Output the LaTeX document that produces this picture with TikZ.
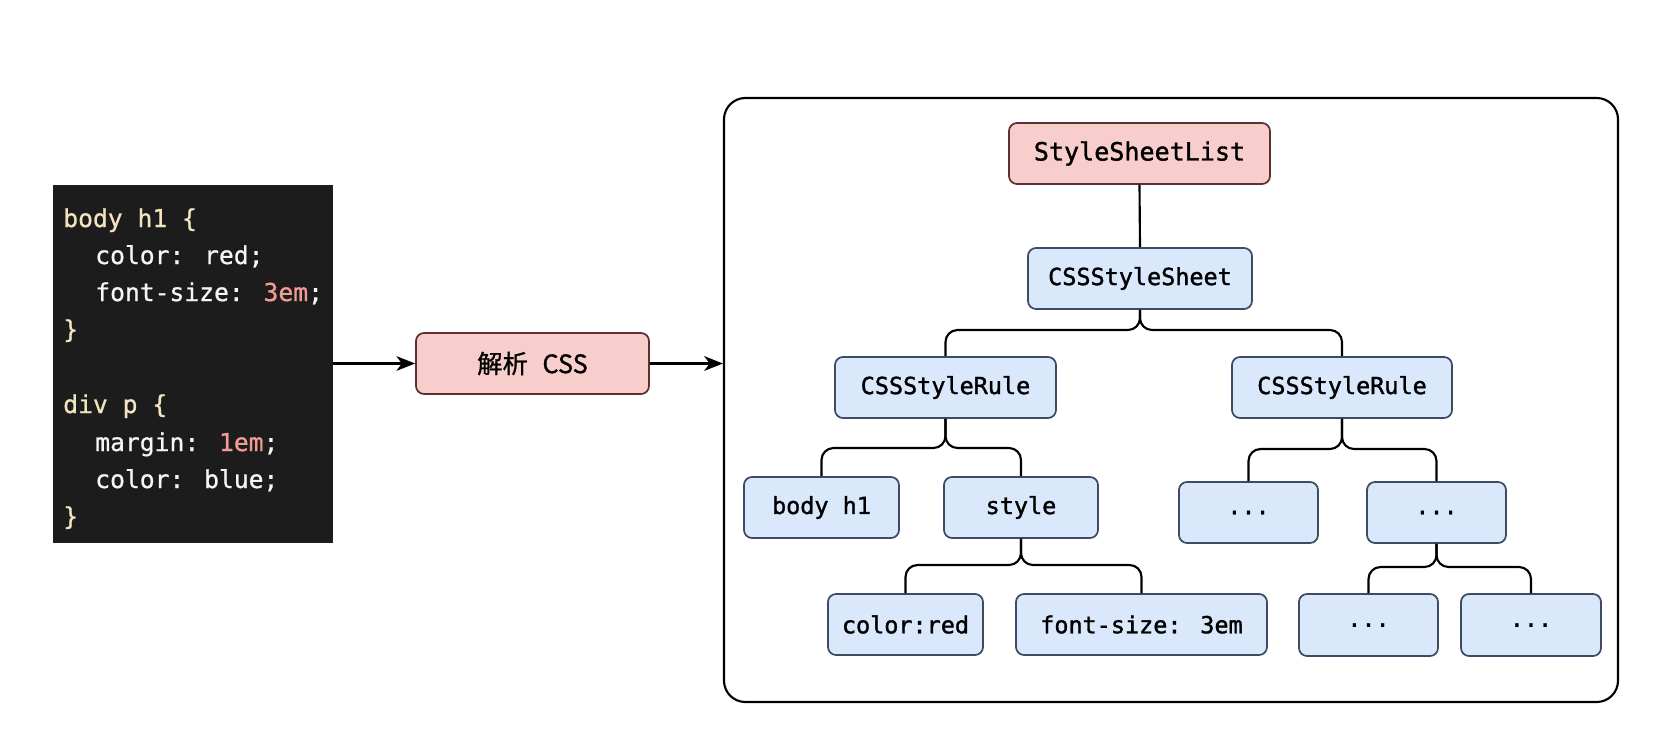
\documentclass[tikz,border=0pt]{standalone}
\usepackage{fontspec}
\setmainfont{DejaVu Sans}
\setmonofont{DejaVu Sans Mono}
\newfontfamily\treemono[FakeBold=1.4]{DejaVu Sans Mono}
\newfontfamily\codemono[FakeBold=0.8]{DejaVu Sans Mono}
\newfontfamily\cjk[FakeBold=1.0]{Noto Sans CJK SC}
\usetikzlibrary{arrows.meta}

\definecolor{codebg}{HTML}{1C1C1C}
\definecolor{codesel}{HTML}{F3E4C0}
\definecolor{codetxt}{HTML}{F6F6F6}
\definecolor{codenum}{HTML}{F29A94}
\definecolor{bluefill}{HTML}{DAE8FC}
\definecolor{bluedraw}{HTML}{3E4B62}
\definecolor{pinkfill}{HTML}{F8CECC}
\definecolor{pinkdraw}{HTML}{5E3030}

\begin{document}
\begin{tikzpicture}[x=0.75pt,y=-0.75pt,
  sz/.style 2 args={minimum width=#1*0.75pt, minimum height=#2*0.75pt, inner sep=0pt},
  treebox/.style={draw=bluedraw, fill=bluefill, line width=1.3pt, rounded corners=6pt,
    font=\treemono\fontsize{17.6}{20}\selectfont, text=black},
  redbox/.style={treebox, draw=pinkdraw, fill=pinkfill},
  link/.style={draw=black, line width=1.6pt, rounded corners=9pt},
  arr/.style={draw=black, line width=1.6pt, -{Stealth[length=14pt,width=11pt,inset=4pt]}},
  codeline/.style={anchor=base west, inner sep=0pt,
    font=\codemono\fontsize{18.5}{22}\selectfont, text=codetxt},
]
\fill[white] (0,0) rectangle (1675,754);
\useasboundingbox (0,0) rectangle (1675,754);

% code panel
\node[fill=codebg, sz={280}{358}] (code) at (193,364) {};
\node[codeline] (l1) at (63,227) {\textcolor{codesel}{body h1 \{}};
\node[codeline] (l2) at (95,264) {color: red;};
\node[codeline] (l3) at (95,301) {font-size: \textcolor{codenum}{3em};};
\node[codeline] (l4) at (63,338) {\textcolor{codesel}{\}}};
\node[codeline] (l5) at (63,413) {\textcolor{codesel}{div p \{}};
\node[codeline] (l6) at (95,451) {margin: \textcolor{codenum}{1em};};
\node[codeline] (l7) at (95,488) {color: blue;};
\node[codeline] (l8) at (63,525) {\textcolor{codesel}{\}}};

% parse step
\node[redbox, font=\cjk\fontsize{19}{22}\selectfont, sz={233}{61}] (parse) at (532.5,363.5) {解析 \hspace{0.35em}CSS};

% frame
\node[draw=black, line width=1.6pt, rounded corners=16pt, sz={894}{604}] (frame) at (1171,400) {};

\draw[arr] (parse.west -| code.east) -- (parse.west);
\draw[arr] (parse.east) -- (parse.east -| frame.west);

% tree
\node[redbox, font=\treemono\fontsize{18.8}{22}\selectfont, sz={261}{61}] (ssl) at (1139.5,153.5) {StyleSheetList};
\node[treebox, sz={224}{61}] (sheet) at (1140,278.5) {CSSStyleSheet};
\node[treebox, sz={221}{61}] (ruleL) at (945.5,387.5) {CSSStyleRule};
\node[treebox, sz={220}{61}] (ruleR) at (1342,387.5) {CSSStyleRule};
\node[treebox, sz={155}{61}] (bh1) at (821.5,507.5) {body h1};
\node[treebox, sz={154}{61}] (style) at (1021,507.5) {style};
\node[treebox, sz={139}{61}] (d1) at (1248.5,512.5) {...};
\node[treebox, sz={139}{61}] (d2) at (1436.5,512.5) {...};
\node[treebox, sz={155}{61}] (cred) at (905.5,624.5) {color:red};
\node[treebox, sz={251}{61}] (fsz) at (1141.5,624.5) {font-size: 3em};
\node[treebox, sz={139}{62}] (d3) at (1368.5,625) {...};
\node[treebox, sz={140}{62}] (d4) at (1531,625) {...};

\coordinate (j0) at (1140,330);
\coordinate (j1) at (945.5,448);
\coordinate (j2) at (1342,449);
\coordinate (j3) at (1021,565);
\coordinate (j4) at (1436.5,567);

\draw[link] (ssl.south) -- (sheet.north);
\draw[link] (sheet.south) -- (j0) -| (ruleL.north);
\draw[link] (sheet.south) -- (j0) -| (ruleR.north);
\draw[link] (ruleL.south) -- (j1) -| (bh1.north);
\draw[link] (ruleL.south) -- (j1) -| (style.north);
\draw[link] (ruleR.south) -- (j2) -| (d1.north);
\draw[link] (ruleR.south) -- (j2) -| (d2.north);
\draw[link] (style.south) -- (j3) -| (cred.north);
\draw[link] (style.south) -- (j3) -| (fsz.north);
\draw[link] (d2.south) -- (j4) -| (d3.north);
\draw[link] (d2.south) -- (j4) -| (d4.north);
\end{tikzpicture}
\end{document}
